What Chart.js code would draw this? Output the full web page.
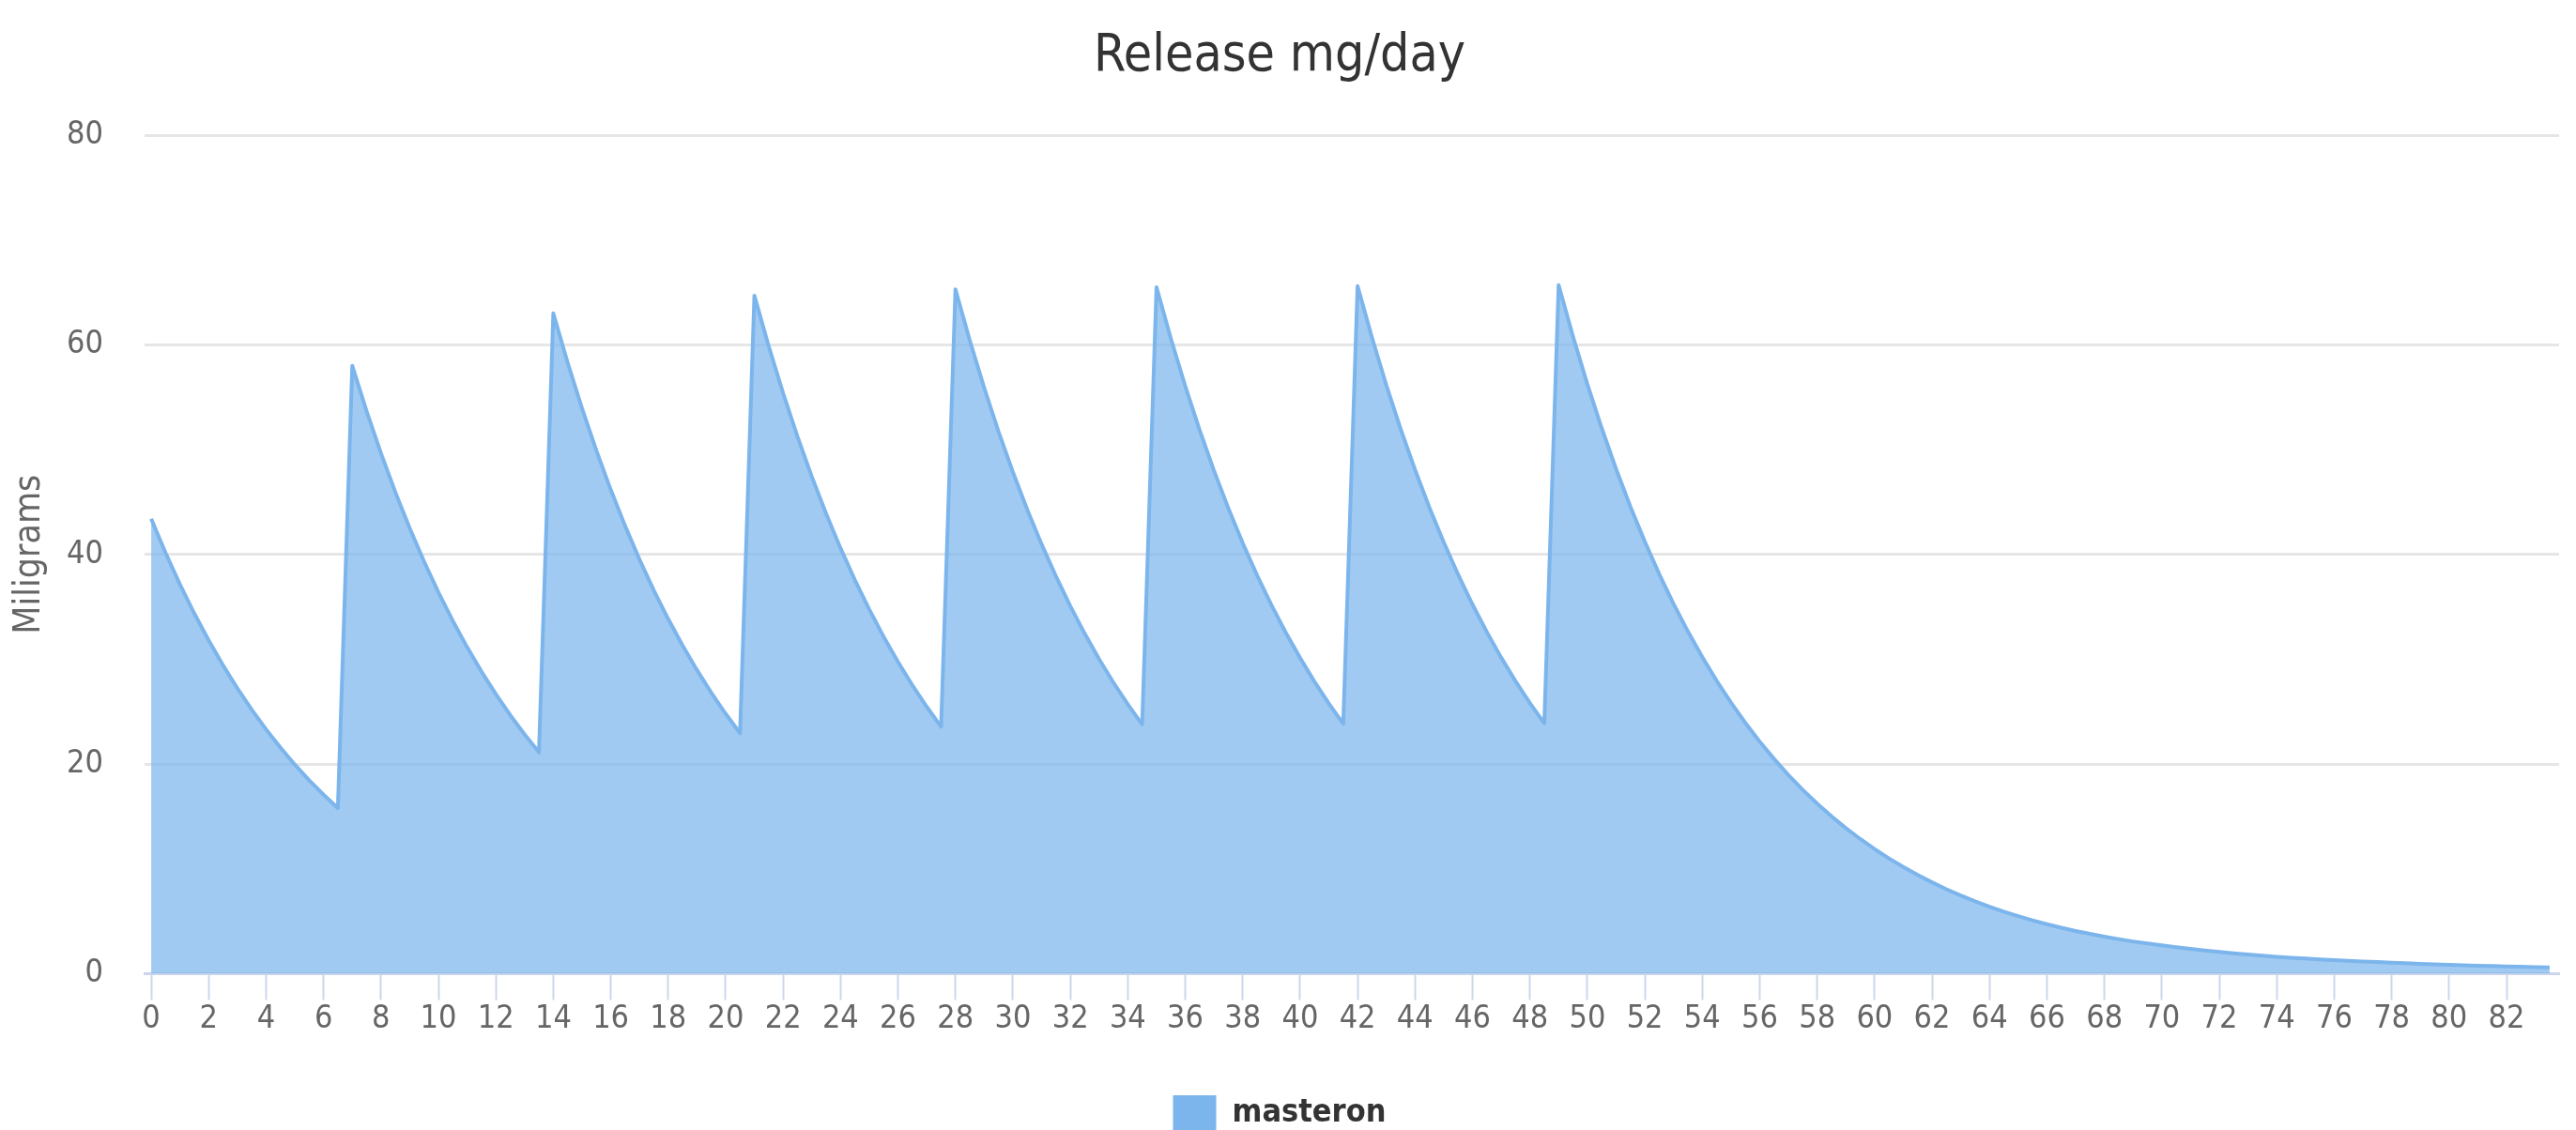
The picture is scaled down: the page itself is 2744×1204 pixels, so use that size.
<!DOCTYPE html>
<html lang="en">
<head>
    <meta charset="UTF-8">
    <title>Release mg/day</title>
    <script src="https://cdn.jsdelivr.net/npm/chart.js"></script>
    <style>
        html, body {
            margin: 0;
            padding: 0;
            background: #ffffff;
        }
        #chart-container {
            width: 2744px;
            height: 1204px;
            position: relative;
        }
    </style>
</head>
<body>
    <div id="chart-container">
        <canvas id="release-chart"></canvas>
    </div>
    <script>
        // injection days, each followed by half-day samples of the release curve
        var doseDays = [0, 7, 14, 21, 28, 35, 42, 49];
        var stepDays = 0.5;

        var week1 = [43.4, 40.16, 37.15, 34.38, 31.81, 29.43, 27.23, 25.19, 23.31, 21.57, 19.95, 18.46, 17.08, 15.81];
        var week2 = [58.0, 53.66, 49.65, 45.94, 42.51, 39.33, 36.39, 33.67, 31.15, 28.82, 26.67, 24.67, 22.83, 21.12];
        var week3 = [63.0, 58.29, 53.93, 49.90, 46.17, 42.72, 39.52, 36.57, 33.84, 31.31, 28.97, 26.80, 24.80, 22.94];
        var week4 = [64.7, 59.86, 55.39, 51.25, 47.42, 43.87, 40.59, 37.56, 34.75, 32.15, 29.75, 27.52, 25.47, 23.56];
        var week5 = [65.3, 60.42, 55.90, 51.72, 47.86, 44.28, 40.97, 37.91, 35.07, 32.45, 30.02, 27.78, 25.70, 23.78];
        var week6 = [65.5, 60.60, 56.07, 51.88, 48.00, 44.41, 41.09, 38.02, 35.18, 32.55, 30.12, 27.86, 25.78, 23.85];
        var week7 = [65.6, 60.70, 56.16, 51.96, 48.08, 44.48, 41.16, 38.08, 35.23, 32.60, 30.16, 27.91, 25.82, 23.89];
        // last injection and washout
        var tail = [65.7, 60.79, 56.24, 52.04, 48.15, 44.55, 41.22, 38.14, 35.29, 32.65, 30.21, 27.95, 25.86, 23.93,
                    22.14, 20.49, 18.95, 17.54, 16.23, 15.01, 13.89, 12.85, 11.89, 11.00, 10.18, 9.42, 8.72, 8.06, 7.46, 6.90,
                    6.39, 5.92, 5.49, 5.09, 4.72, 4.39, 4.08, 3.80, 3.54, 3.30, 3.08, 2.88, 2.70, 2.53, 2.37, 2.22, 2.08, 1.95, 1.83, 1.72,
                    1.62, 1.53, 1.45, 1.37, 1.30, 1.24, 1.17, 1.11, 1.05, 1.00, 0.95, 0.90, 0.85, 0.81, 0.77, 0.73, 0.70, 0.67, 0.63, 0.60];

        var segments = [week1, week2, week3, week4, week5, week6, week7, tail];

        var yTicks = [0, 20, 40, 60, 80];

        var FONT = '"DejaVu Sans Condensed", "Liberation Sans Narrow", "DejaVu Sans", sans-serif';

        var points = [];
        segments.forEach(function(values, w) {
            values.forEach(function(v, i) {
                points.push({ x: doseDays[w] + i * stepDays, y: v });
            });
        });

        var ctx = document.getElementById('release-chart').getContext('2d');
        var releaseChart = new Chart(ctx, {
            type: 'line',
            data: {
                datasets: [{
                    label: 'masteron',
                    data: points,
                    borderColor: '#7cb5ec',
                    backgroundColor: 'rgba(124, 181, 236, 0.72)',
                    borderWidth: 4,
                    borderJoinStyle: 'round',
                    pointRadius: 0,
                    tension: 0,
                    fill: 'origin'
                }]
            },
            options: {
                responsive: true,
                maintainAspectRatio: false,
                animation: false,
                layout: {
                    padding: { left: 0, right: 18, top: 0, bottom: -11 }
                },
                plugins: {
                    tooltip: { enabled: false },
                    title: {
                        display: true,
                        text: 'Release mg/day',
                        color: '#333333',
                        font: { family: FONT, size: 55, weight: 'normal', lineHeight: 1.2 },
                        padding: { top: 28, bottom: 50 }
                    },
                    legend: {
                        position: 'bottom',
                        labels: {
                            color: '#333333',
                            font: { family: FONT, size: 34, weight: 'bold' },
                            boxWidth: 46,
                            boxHeight: 38,
                            padding: 10,
                            generateLabels: function(chart) {
                                var items = Chart.defaults.plugins.legend.labels.generateLabels(chart);
                                items.forEach(function(item) {
                                    item.fillStyle = '#7cb5ec';
                                    item.strokeStyle = '#7cb5ec';
                                    item.lineWidth = 0;
                                });
                                return items;
                            }
                        }
                    }
                },
                scales: {
                    x: {
                        type: 'linear',
                        min: -0.23,
                        max: 83.83,
                        afterFit: function(scale) {
                            scale.height = 119.5;
                        },
                        grid: {
                            drawOnChartArea: false,
                            drawTicks: true,
                            tickLength: 28,
                            tickColor: '#ccd6eb',
                            tickWidth: 2
                        },
                        border: {
                            display: true,
                            color: '#ccd6eb',
                            width: 3
                        },
                        ticks: {
                            stepSize: 2,
                            includeBounds: false,
                            autoSkip: false,
                            maxRotation: 0,
                            padding: 4,
                            color: '#666666',
                            font: { family: FONT, size: 34, lineHeight: 1 }
                        }
                    },
                    y: {
                        min: yTicks[0],
                        max: yTicks[yTicks.length - 1],
                        afterFit: function(scale) {
                            scale.width = 154;
                        },
                        afterBuildTicks: function(scale) {
                            scale.ticks = yTicks.map(function(v) { return { value: v }; });
                        },
                        title: {
                            display: true,
                            text: 'Miligrams',
                            color: '#666666',
                            font: { family: FONT, size: 39, lineHeight: 1.2 },
                            padding: { top: 8, bottom: 0 }
                        },
                        grid: {
                            color: '#e6e6e6',
                            lineWidth: 3,
                            drawTicks: false
                        },
                        border: { display: false },
                        ticks: {
                            padding: 44,
                            color: '#666666',
                            font: { family: FONT, size: 34 }
                        }
                    }
                }
            }
        });
    </script>
</body>
</html>
